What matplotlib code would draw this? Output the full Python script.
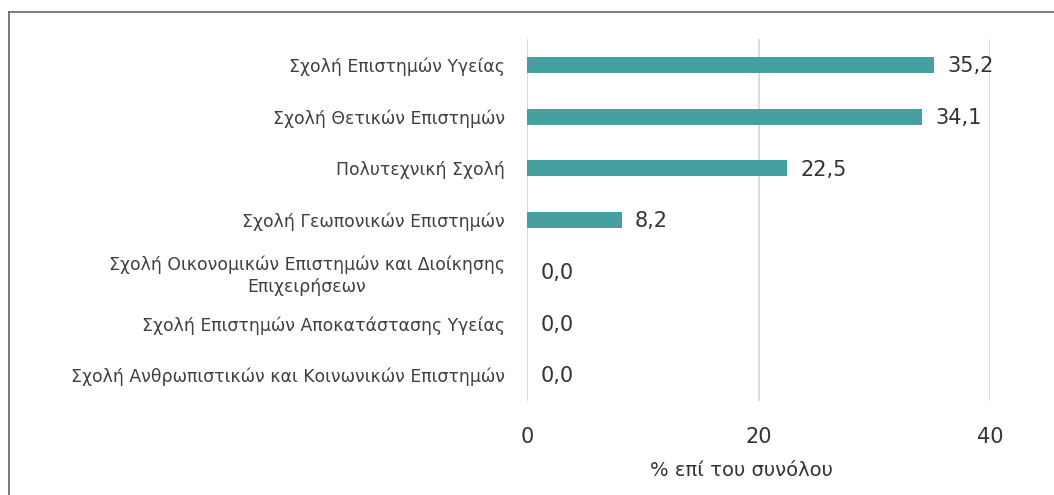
import matplotlib.pyplot as plt
from matplotlib.lines import Line2D

# Data
schools = [
    'Σχολή Επιστημών Υγείας',
    'Σχολή Θετικών Επιστημών',
    'Πολυτεχνική Σχολή',
    'Σχολή Γεωπονικών Επιστημών',
    'Σχολή Οικονομικών Επιστημών και Διοίκησης\nΕπιχειρήσεων',
    'Σχολή Επιστημών Αποκατάστασης Υγείας',
    'Σχολή Ανθρωπιστικών και Κοινωνικών Επιστημών',
]
percent = [35.2, 34.1, 22.5, 8.2, 0.0, 0.0, 0.0]
x_ticks = [0, 20, 40]
x_label = '% επί του συνόλου'

plt.rcParams['font.family'] = ['DejaVu Sans']

fig = plt.figure(figsize=(10.54, 4.95), dpi=100)
ax = fig.add_axes([0.5, 0.19, 0.4393, 0.731])

y_pos = list(range(len(schools)))
ax.barh(y_pos, percent, height=0.31, color='#46a0a0', zorder=3)
ax.set_ylim(len(schools) - 0.5, -0.5)
ax.set_xlim(0, 40)

for y, v in zip(y_pos, percent):
    ax.annotate(f'{v:.1f}'.replace('.', ','), xy=(v, y), xytext=(9.5, -1),
                textcoords='offset points', ha='left', va='center',
                fontsize=15, color='#333333')

ax.set_yticks(y_pos)
ax.set_yticklabels(schools, fontsize=12.4, color='#404040', multialignment='center',
                   linespacing=1.3)
ax.set_xticks(x_ticks)
ax.set_xticklabels([str(t) for t in x_ticks], fontsize=15, color='#333333')
ax.tick_params(axis='x', length=0, pad=19)
ax.tick_params(axis='y', length=0, pad=16)
ax.set_xlabel(x_label, fontsize=14, color='#333333')
ax.xaxis.set_label_coords(0.464, -0.165)

ax.grid(axis='x', color='#d9d9d9', linewidth=1.3, zorder=0)
for s in ax.spines.values():
    s.set_visible(False)

# outer frame (only left and top edges visible)
fig.add_artist(Line2D([8.5 / 1054, 8.5 / 1054], [0, 1 - 12 / 495],
                      transform=fig.transFigure, color='#666666', linewidth=1.2))
fig.add_artist(Line2D([8.5 / 1054, 1], [1 - 12 / 495, 1 - 12 / 495],
                      transform=fig.transFigure, color='#666666', linewidth=1.2))

plt.savefig('out.png', dpi=100)
